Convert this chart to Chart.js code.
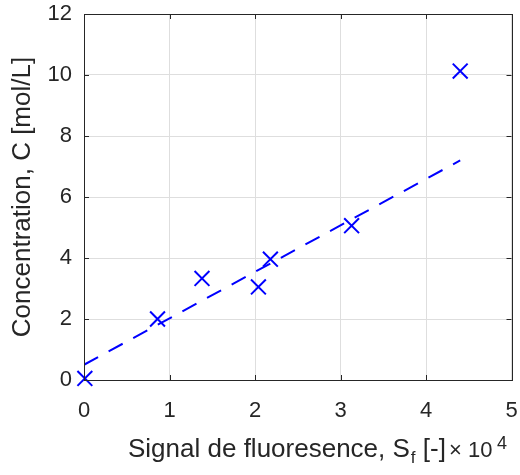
<!DOCTYPE html>
<html>
<head>
<meta charset="utf-8">
<script src="https://cdn.jsdelivr.net/npm/chart.js@4.4.1/dist/chart.umd.min.js"></script>
<style>
  html, body { margin: 0; padding: 0; background: #fff; overflow: hidden; }
  canvas { display: block; }
</style>
</head>
<body>
<!-- a few px wider than the window: Chart.js keeps ~12px right of the plot for the last x label -->
<canvas id="chart" width="524" height="475"></canvas>
<script>
// measured points (signal in units of 1e4)
const signalX = [0.01, 0.86, 1.38, 2.04, 2.18, 3.13, 4.40];
const concentrationY = [0.05, 2.00, 3.33, 3.05, 3.96, 5.06, 10.13];

// fitted line end points
const fitX = [0, 4.40];
const fitY = [0.50, 7.20];

const xTicks = [0, 1, 2, 3, 4, 5];
const yTicks = [0, 2, 4, 6, 8, 10, 12];

const yTitle = 'Concentration, C [mol/L]';
const xTitleMain = 'Signal de fluoresence, S';
const xTitleSub = 'f';
const xTitleEnd = ' [-]';

const FONT = '"Liberation Sans", Arial, sans-serif';
const TEXT = '#262626';
const BLUE = '#0000ff';

const toPoints = (xs, ys) => xs.map((x, i) => ({ x: x, y: ys[i] }));

// box around the plot, inward ticks on all sides, x label with subscript and the x10^4 exponent
const matlabAxes = {
  id: 'matlabAxes',
  afterDraw(chart) {
    const { ctx, chartArea: a, scales: { x, y } } = chart;
    const len = 5;
    ctx.save();
    ctx.strokeStyle = TEXT;
    ctx.lineWidth = 1;
    ctx.beginPath();
    xTicks.forEach(v => {
      const px = Math.round(x.getPixelForValue(v)) + 0.5;
      ctx.moveTo(px, a.bottom); ctx.lineTo(px, a.bottom - len);
      ctx.moveTo(px, a.top); ctx.lineTo(px, a.top + len);
    });
    yTicks.forEach(v => {
      const py = Math.round(y.getPixelForValue(v)) + 0.5;
      ctx.moveTo(a.left, py); ctx.lineTo(a.left + len, py);
      ctx.moveTo(a.right, py); ctx.lineTo(a.right - len, py);
    });
    ctx.stroke();
    ctx.strokeRect(Math.round(a.left) + 0.5, Math.round(a.top) + 0.5,
      Math.round(a.right - a.left), Math.round(a.bottom - a.top));

    // x title
    ctx.fillStyle = TEXT;
    ctx.textBaseline = 'alphabetic';
    ctx.textAlign = 'left';
    const base = 457;
    let cx = 128;
    ctx.font = '26px ' + FONT;
    ctx.fillText(xTitleMain, cx, base);
    cx += ctx.measureText(xTitleMain).width;
    ctx.font = '17px ' + FONT;
    ctx.fillText(xTitleSub, cx + 1, base + 6);
    cx += ctx.measureText(xTitleSub).width + 1;
    ctx.font = '26px ' + FONT;
    ctx.fillText(xTitleEnd, cx, base);

    // exponent label
    ctx.font = '22px ' + FONT;
    ctx.fillText('\u00d7', 449, base);
    ctx.fillText('10', 468, base);
    ctx.font = '18px ' + FONT;
    ctx.fillText('4', 497, base - 8);
    ctx.restore();
  }
};

new Chart(document.getElementById('chart'), {
  type: 'scatter',
  data: {
    datasets: [
      {
        label: 'fit',
        type: 'line',
        data: toPoints(fitX, fitY),
        borderColor: BLUE,
        borderWidth: 2,
        borderDash: [16, 12],
        pointRadius: 0,
        fill: false
      },
      {
        label: 'data',
        data: toPoints(signalX, concentrationY),
        pointStyle: 'crossRot',
        pointRadius: 10.5,
        pointHoverRadius: 10.5,
        borderColor: BLUE,
        backgroundColor: BLUE,
        pointBorderWidth: 2,
        clip: false
      }
    ]
  },
  options: {
    responsive: false,
    animation: false,
    layout: { padding: { top: 14, right: 8, left: 0, bottom: 0 } },
    plugins: { legend: { display: false }, tooltip: { enabled: false } },
    scales: {
      x: {
        type: 'linear',
        min: 0,
        max: 5,
        afterBuildTicks: s => { s.ticks = xTicks.map(v => ({ value: v })); },
        afterFit: s => {
          s.height = 95;
          s.paddingLeft = 0; s.paddingRight = 0;
        },
        grid: { color: '#dedede', drawTicks: false },
        border: { display: false },
        ticks: { color: TEXT, font: { family: FONT, size: 22 }, padding: 18 }
      },
      y: {
        type: 'linear',
        min: 0,
        max: 12,
        afterBuildTicks: s => { s.ticks = yTicks.map(v => ({ value: v })); },
        afterFit: s => {
          s.width = 84;
          s.paddingTop = 0; s.paddingBottom = 0;
        },
        grid: { color: '#dedede', drawTicks: false },
        border: { display: false },
        ticks: { color: TEXT, font: { family: FONT, size: 22 }, padding: 12 },
        title: {
          display: true,
          text: yTitle,
          color: TEXT,
          font: { family: FONT, size: 26 },
          padding: { top: 7, bottom: 0 }
        }
      }
    }
  },
  plugins: [matlabAxes]
});
</script>
</body>
</html>
